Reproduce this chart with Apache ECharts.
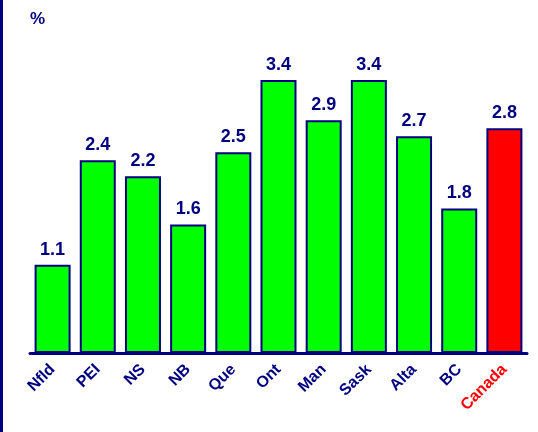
<!DOCTYPE html>
<html>
<head>
<meta charset="utf-8">
<script src="https://cdn.jsdelivr.net/npm/echarts@6/dist/echarts.min.js"></script>
<style>html,body{margin:0;padding:0;background:#fff;}#c{width:538px;height:432px;}</style>
</head>
<body>
<div id="c"></div>
<script>
const categories = ['Nfld','PEI','NS','NB','Que','Ont','Man','Sask','Alta','BC','Canada'];
const values = [1.1, 2.4, 2.2, 1.6, 2.5, 3.4, 2.9, 3.4, 2.7, 1.8, 2.8];
const highlight = 'Canada';

const navy = '#000080';
const chart = echarts.init(document.getElementById('c'));
chart.setOption({
  animation: false,
  backgroundColor: '#ffffff',
  graphic: [
    {type: 'rect', left: 0, top: 0, shape: {width: 3, height: 432}, style: {fill: navy}},
    {type: 'text', left: 30, top: 11, style: {text: '%', fill: navy, font: 'bold 17px "Liberation Sans", Arial, sans-serif'}}
  ],
  grid: {left: 30, right: 11, top: 80, bottom: 79, containLabel: false},
  xAxis: {
    type: 'category',
    data: categories,
    axisLine: {show: true, lineStyle: {color: navy, width: 3}},
    axisTick: {show: false},
    axisLabel: {
      rotate: 45,
      interval: 0,
      margin: 14,
      fontFamily: '"Liberation Sans", Arial, sans-serif',
      fontWeight: 'bold',
      fontSize: 16,
      letterSpacing: -1,
      color: function (v) { return v === highlight ? '#ff0000' : navy; }
    }
  },
  yAxis: {
    type: 'value', min: 0, max: 3.4,
    show: false,
    splitLine: {show: false}
  },
  series: [{
    type: 'bar',
    barWidth: 36,
    data: values.map((v, i) => ({
      value: v,
      itemStyle: {color: categories[i] === highlight ? '#ff0000' : '#00ff00'}
    })),
    itemStyle: {borderColor: navy, borderWidth: 2},
    label: {
      show: true, position: 'top', distance: 6,
      color: navy, fontWeight: 'bold', fontSize: 18,
      fontFamily: '"Liberation Sans", Arial, sans-serif',
      formatter: p => p.value.toFixed(1)
    }
  }]
});
</script>
</body>
</html>
